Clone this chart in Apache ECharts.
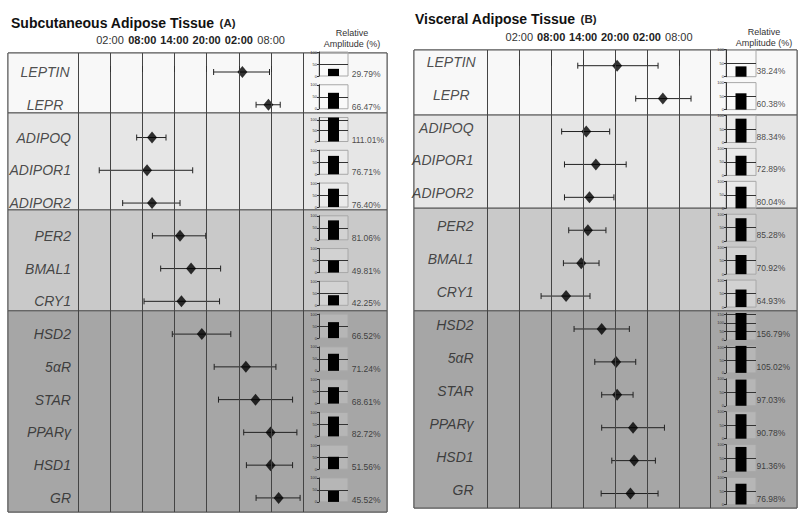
<!DOCTYPE html>
<html><head><meta charset="utf-8">
<script src="https://cdn.jsdelivr.net/npm/echarts@6/dist/echarts.min.js"></script>
<style>html,body{margin:0;padding:0;background:#fff}#c{width:800px;height:518px}</style>
</head><body><div id="c"></div>
<script>
// ---------- DATA ----------
const genes = ['LEPTIN','LEPR','ADIPOQ','ADIPOR1','ADIPOR2','PER2','BMAL1','CRY1','HSD2','5\u03b1R','STAR','PPAR\u03b3','HSD1','GR'];
const groupSizes = [2, 3, 3, 6];
const tickHours = [0, 6, 12, 18, 24, 30];          // hours after 02:00 (day 1)
const tickLabels = ['02:00','08:00','14:00','20:00','02:00','08:00'];
const tickBold = [false, true, true, true, true, false];
const gridHours = [-6, 0, 6, 12, 18, 24, 30, 36];
// Subcutaneous (A): acrophase and confidence limits, hours after 02:00
const phaseA = [24.65, 29.5, 7.83, 6.9, 7.83, 13.04, 15.1, 13.3, 17.1, 25.3, 27.1, 29.9, 29.9, 31.4];
const lowA   = [19.3, 27.2, 4.97, -2.0, 2.36, 7.9, 9.44, 6.34, 11.6, 19.4, 20.2, 24.9, 25.4, 27.2];
const highA  = [29.7, 31.7, 10.43, 15.4, 13.04, 17.83, 20.6, 20.4, 22.5, 30.9, 34.0, 34.8, 34.0, 35.4];
const ampA   = [29.79, 66.47, 111.01, 76.71, 76.40, 81.06, 49.81, 42.25, 66.52, 71.24, 68.61, 82.72, 51.56, 45.52];
// Visceral (B)
const phaseB = [18.4, 27.0, 12.6, 14.4, 13.2, 12.9, 11.65, 8.8, 15.5, 18.2, 18.4, 21.4, 21.6, 20.9];
const lowB   = [11.0, 21.9, 7.97, 8.5, 8.5, 9.3, 8.3, 4.1, 10.3, 14.2, 15.5, 15.5, 17.4, 15.4];
const highB  = [26.1, 32.3, 17.0, 20.1, 17.8, 16.3, 15.0, 13.3, 20.7, 21.9, 21.4, 27.3, 25.6, 26.1];
const ampB   = [38.24, 60.38, 88.34, 72.89, 80.04, 85.28, 70.92, 64.93, 156.79, 105.02, 97.03, 90.78, 91.36, 76.98];

// ---------- LAYOUT / STYLE ----------
const FONT = 'Liberation Sans, Arial, sans-serif';
const sectionColors = ['#f8f8f8', '#e6e6e6', '#c9c9c9', '#a6a6a6'];
const panels = [
  { title: 'Subcutaneous Adipose Tissue', tag: '(A)', phase: phaseA, low: lowA, high: highA, amp: ampA,
    left: 8, top: 53, width: 379, height: 459, xMin: -18.99, xMax: 51.58, yMin: -0.58, yMax: 13.43,
    bounds: [1.25, 4.21, 7.29], titleX: 6, titleY: 9, headX: 352, headY: 28,
    labelRightX: -7.26, labelCenterX: -12.1, labelDy: 0, pctX: 45.0, pctDy: 2,
    mini: { left: 319, width: 29, dy: -20, height: 24 } },
  { title: 'Visceral Adipose Tissue', tag: '(B)', phase: phaseB, low: lowB, high: highB, amp: ampB,
    left: 414, top: 50, width: 383, height: 458, xMin: -19.8, xMax: 52.23, yMin: -0.477, yMax: 13.44,
    bounds: [1.5, 4.33, 7.45], titleX: 410, titleY: 5, headX: 764, headY: 27,
    labelRightX: -8.6, labelCenterX: -12.8, labelDy: -4, pctX: 44.6, pctDy: 5,
    mini: { left: 726, width: 30, dy: -16, height: 27 } }
];
const sectionOf = [];
groupSizes.forEach((n, s) => { for (let k = 0; k < n; k++) sectionOf.push(s); });

const option = { animation: false, backgroundColor: '#fff', title: [], grid: [], xAxis: [], yAxis: [], series: [], graphic: [] };

panels.forEach((p) => {
  option.title.push({
    text: '{t|' + p.title + '} {a|' + p.tag + '}', left: p.titleX, top: p.titleY,
    textStyle: { rich: { t: { fontFamily: FONT, fontSize: 14, fontWeight: 'bold', color: '#111' },
                         a: { fontFamily: FONT, fontSize: 11.5, color: '#222' } } }
  });
  option.graphic.push({ type: 'text', x: p.headX, y: p.headY,
    style: { text: 'Relative\nAmplitude (%)', align: 'center', fontSize: 9, lineHeight: 10.6, fill: '#333', fontFamily: FONT } });

  const gi = option.grid.length;
  option.grid.push({ left: p.left, top: p.top, width: p.width, height: p.height, show: true,
    borderColor: '#555', borderWidth: 1, backgroundColor: 'transparent' });
  option.xAxis.push({ gridIndex: gi, type: 'value', position: 'top', min: p.xMin, max: p.xMax, z: 8,
    axisLine: { show: false }, splitLine: { show: false },
    axisTick: { show: true, customValues: tickHours, length: 6, lineStyle: { color: '#333' } },
    axisLabel: { show: true, customValues: tickHours, margin: 8,
      formatter: (v) => { const k = tickHours.indexOf(v); return (tickBold[k] ? '{b|' : '{n|') + tickLabels[k] + '}'; },
      rich: { b: { fontFamily: FONT, fontSize: 11, fontWeight: 'bold', color: '#222' },
              n: { fontFamily: FONT, fontSize: 11, color: '#333' } } } });
  option.yAxis.push({ gridIndex: gi, type: 'value', inverse: true, min: p.yMin, max: p.yMax, show: false });

  const edges = [p.yMin].concat(p.bounds, [p.yMax]);
  option.series.push({ type: 'scatter', xAxisIndex: gi, yAxisIndex: gi, z: 0, silent: true, symbolSize: 0,
    data: [[p.xMin, p.yMin]],
    markArea: { silent: true, data: sectionColors.map((c, s) => [
      { yAxis: edges[s], itemStyle: { color: c, borderColor: '#555', borderWidth: 1 } }, { yAxis: edges[s + 1] }]) } });
  option.series.push({ type: 'scatter', xAxisIndex: gi, yAxisIndex: gi, z: 1, silent: true, symbolSize: 0,
    data: [[p.xMin, p.yMin]],
    markLine: { silent: true, symbol: ['none', 'none'], label: { show: false },
      lineStyle: { color: '#444', width: 1, type: 'solid' }, data: gridHours.map(h => ({ xAxis: h })) } });
  // confidence interval whiskers
  option.series.push({ type: 'custom', xAxisIndex: gi, yAxisIndex: gi, z: 3,
    data: genes.map((g, i) => [p.low[i], p.high[i], i]),
    encode: { x: [0, 1], y: 2 },
    renderItem: (params, api) => {
      const y = api.value(2);
      const a = api.coord([api.value(0), y]);
      const b = api.coord([api.value(1), y]);
      const h = 3, st = { stroke: '#222', lineWidth: 1 };
      return { type: 'group', children: [
        { type: 'line', shape: { x1: a[0], y1: a[1], x2: b[0], y2: b[1] }, style: st },
        { type: 'line', shape: { x1: a[0], y1: a[1] - h, x2: a[0], y2: a[1] + h }, style: st },
        { type: 'line', shape: { x1: b[0], y1: b[1] - h, x2: b[0], y2: b[1] + h }, style: st } ] };
    } });
  // acrophase diamonds
  option.series.push({ type: 'scatter', xAxisIndex: gi, yAxisIndex: gi, z: 4, symbol: 'diamond', symbolSize: [10, 12],
    itemStyle: { color: '#000' }, data: genes.map((g, i) => [p.phase[i], i]) });
  // gene labels
  option.series.push({ type: 'scatter', xAxisIndex: gi, yAxisIndex: gi, z: 5, symbolSize: 0, silent: true,
    data: genes.map((g, i) => ({ name: g,
      value: [sectionOf[i] === 0 ? p.labelCenterX : p.labelRightX, i],
      label: { align: sectionOf[i] === 0 ? 'center' : 'right' } })),
    label: { show: true, position: 'inside', formatter: '{b}', offset: [0, p.labelDy],
      fontFamily: FONT, fontStyle: 'italic', fontSize: 14, color: '#222' } });
  // amplitude value labels
  option.series.push({ type: 'scatter', xAxisIndex: gi, yAxisIndex: gi, z: 5, symbolSize: 0, silent: true,
    data: p.amp.map((a, i) => ({ value: [p.pctX, i] })),
    label: { show: true, position: 'inside', align: 'left', offset: [0, p.pctDy],
      formatter: (d) => p.amp[d.dataIndex].toFixed(2) + '%',
      fontFamily: FONT, fontSize: 8.5, color: '#222' } });

  // mini amplitude bar charts
  const rowY = (i) => p.top + (i - p.yMin) / (p.yMax - p.yMin) * p.height;
  p.amp.forEach((a, i) => {
    const mi = option.grid.length;
    option.grid.push({ left: p.mini.left, top: rowY(i) + p.mini.dy, width: p.mini.width, height: p.mini.height, z: 6,
      show: true, backgroundColor: 'rgba(255,255,255,0.18)', borderColor: '#a8a8a8', borderWidth: 1 });
    option.xAxis.push({ gridIndex: mi, type: 'category', data: [genes[i]], show: false });
    option.yAxis.push({ gridIndex: mi, type: 'value', min: 0, max: Math.max(100, a), interval: 50, z: 7,
      axisLine: { show: true, lineStyle: { color: '#333', width: 1 } },
      axisTick: { show: true, length: 2, lineStyle: { color: '#333' } },
      axisLabel: { show: true, fontSize: 4, margin: 2, color: '#333', fontFamily: FONT },
      splitLine: { show: true, showMinLine: false, showMaxLine: false, lineStyle: { color: '#333', width: 1 } } });
    option.series.push({ type: 'bar', xAxisIndex: mi, yAxisIndex: mi, barWidth: 11, z: 8, silent: true,
      itemStyle: { color: '#000' }, data: [a] });
  });
});

const chart = echarts.init(document.getElementById('c'), null, { renderer: 'svg' });
chart.setOption(option);
</script>
</body></html>
